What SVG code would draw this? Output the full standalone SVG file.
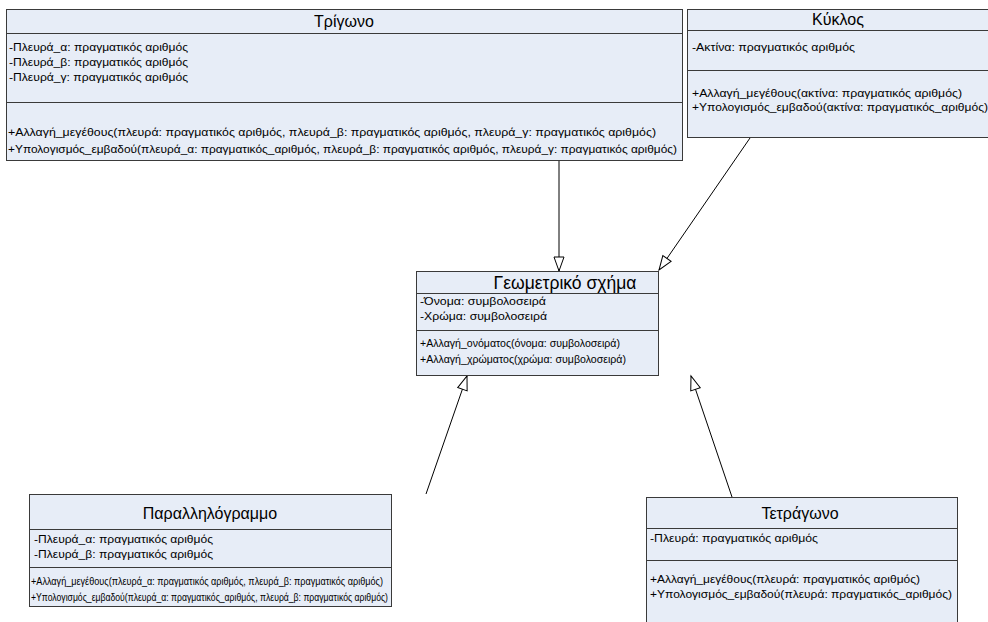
<svg xmlns="http://www.w3.org/2000/svg" width="988" height="622" viewBox="0 0 988 622">
  <style>
    .box { fill: #E7EDF7; stroke: #3a3a3a; stroke-width: 1; }
    .sep { stroke: #3a3a3a; stroke-width: 1; }
    .title { font-family: "Liberation Sans", Arial, sans-serif; font-size: 16px; fill: #000; text-anchor: middle; }
    .txt { font-family: "Liberation Sans", Arial, sans-serif; font-size: 11px; fill: #000; }
    .edge { stroke: #000; stroke-width: 1; fill: none; marker-end: url(#gen); }
  </style>
  <defs>
    <!-- hollow triangle for generalisation links -->
    <marker id="gen" markerUnits="userSpaceOnUse" markerWidth="18" markerHeight="14" refX="15" refY="7" orient="auto" overflow="visible">
      <path d="M1,2 L15,7 L1,12 z" fill="#fff" stroke="#000" stroke-width="1"/>
    </marker>
  </defs>
  <rect width="988" height="622" fill="#fff"/>

  <g id="connectors">
    <line class="edge" x1="559" y1="161" x2="559" y2="271"/>
    <line class="edge" x1="750" y1="138" x2="659" y2="270"/>
    <line class="edge" x1="426" y1="494" x2="467" y2="376"/>
    <line class="edge" x1="732" y1="497" x2="691" y2="376"/>
  </g>

  <g id="trigono">
    <rect class="box" x="6.5" y="9.5" width="676" height="151"/>
    <line class="sep" x1="6.5" y1="33.5" x2="682.5" y2="33.5"/>
    <line class="sep" x1="6.5" y1="102.5" x2="682.5" y2="102.5"/>
    <text class="title" x="344" y="27">Τρίγωνο</text>
    <text class="txt" x="9" y="51" textLength="179" lengthAdjust="spacingAndGlyphs">-Πλευρά_α: πραγματικός αριθμός</text>
    <text class="txt" x="9" y="66" textLength="179" lengthAdjust="spacingAndGlyphs">-Πλευρά_β: πραγματικός αριθμός</text>
    <text class="txt" x="9" y="81" textLength="179" lengthAdjust="spacingAndGlyphs">-Πλευρά_γ: πραγματικός αριθμός</text>
    <text class="txt" x="8" y="136" textLength="648" lengthAdjust="spacingAndGlyphs">+Αλλαγή_μεγέθους(πλευρά: πραγματικός αριθμός, πλευρά_β: πραγματικός αριθμός, πλευρά_γ: πραγματικός αριθμός)</text>
    <text class="txt" x="8" y="153" textLength="669" lengthAdjust="spacingAndGlyphs">+Υπολογισμός_εμβαδού(πλευρά_α: πραγματικός_αριθμός, πλευρά_β: πραγματικός αριθμός, πλευρά_γ: πραγματικός αριθμός)</text>
  </g>

  <g id="kyklos">
    <rect class="box" x="687.5" y="9.5" width="305" height="128"/>
    <line class="sep" x1="687.5" y1="30.5" x2="992" y2="30.5"/>
    <line class="sep" x1="687.5" y1="70.5" x2="992" y2="70.5"/>
    <text class="title" x="838" y="25">Κύκλος</text>
    <text class="txt" x="692" y="51" textLength="163" lengthAdjust="spacingAndGlyphs">-Ακτίνα: πραγματικός αριθμός</text>
    <text class="txt" x="692" y="97" textLength="270" lengthAdjust="spacingAndGlyphs">+Αλλαγή_μεγέθους(ακτίνα: πραγματικός αριθμός)</text>
    <text class="txt" x="692" y="111" textLength="296" lengthAdjust="spacingAndGlyphs">+Υπολογισμός_εμβαδού(ακτίνα: πραγματικός_αριθμός)</text>
  </g>

  <g id="geometriko-schima">
    <rect class="box" x="416.5" y="271.5" width="242" height="104"/>
    <line class="sep" x1="416.5" y1="293.5" x2="658.5" y2="293.5"/>
    <line class="sep" x1="416.5" y1="330.5" x2="658.5" y2="330.5"/>
    <text class="title" x="565" y="289" style="font-size:17.5px">Γεωμετρικό σχήμα</text>
    <text class="txt" x="420" y="305" textLength="126" lengthAdjust="spacingAndGlyphs">-Όνομα: συμβολοσειρά</text>
    <text class="txt" x="420" y="320" textLength="127" lengthAdjust="spacingAndGlyphs">-Χρώμα: συμβολοσειρά</text>
    <text class="txt" x="420" y="347" textLength="200" lengthAdjust="spacingAndGlyphs">+Αλλαγή_ονόματος(όνομα: συμβολοσειρά)</text>
    <text class="txt" x="420" y="363" textLength="206" lengthAdjust="spacingAndGlyphs">+Αλλαγή_χρώματος(χρώμα: συμβολοσειρά)</text>
  </g>

  <g id="parallilogrammo">
    <rect class="box" x="29.5" y="494.5" width="362" height="112"/>
    <line class="sep" x1="29.5" y1="529.5" x2="391.5" y2="529.5"/>
    <line class="sep" x1="29.5" y1="567.5" x2="391.5" y2="567.5"/>
    <text class="title" x="210" y="519">Παραλληλόγραμμο</text>
    <text class="txt" x="34" y="543" textLength="179" lengthAdjust="spacingAndGlyphs">-Πλευρά_α: πραγματικός αριθμός</text>
    <text class="txt" x="34" y="558" textLength="179" lengthAdjust="spacingAndGlyphs">-Πλευρά_β: πραγματικός αριθμός</text>
    <text class="txt" x="31" y="585" textLength="352" lengthAdjust="spacingAndGlyphs">+Αλλαγή_μεγέθους(πλευρά_α: πραγματικός αριθμός, πλευρά_β: πραγματικός αριθμός)</text>
    <text class="txt" x="31" y="601" textLength="357" lengthAdjust="spacingAndGlyphs">+Υπολογισμός_εμβαδού(πλευρά_α: πραγματικός_αριθμός, πλευρά_β: πραγματικός αριθμός)</text>
  </g>

  <g id="tetragono">
    <rect class="box" x="646.5" y="497.5" width="311" height="130"/>
    <line class="sep" x1="646.5" y1="528.5" x2="957.5" y2="528.5"/>
    <line class="sep" x1="646.5" y1="560.5" x2="957.5" y2="560.5"/>
    <text class="title" x="800" y="519">Τετράγωνο</text>
    <text class="txt" x="650" y="542" textLength="168" lengthAdjust="spacingAndGlyphs">-Πλευρά: πραγματικός αριθμός</text>
    <text class="txt" x="650" y="583" textLength="270" lengthAdjust="spacingAndGlyphs">+Αλλαγή_μεγέθους(πλευρά: πραγματικός αριθμός)</text>
    <text class="txt" x="650" y="598" textLength="302" lengthAdjust="spacingAndGlyphs">+Υπολογισμός_εμβαδού(πλευρά: πραγματικός_αριθμός)</text>
  </g>
</svg>
